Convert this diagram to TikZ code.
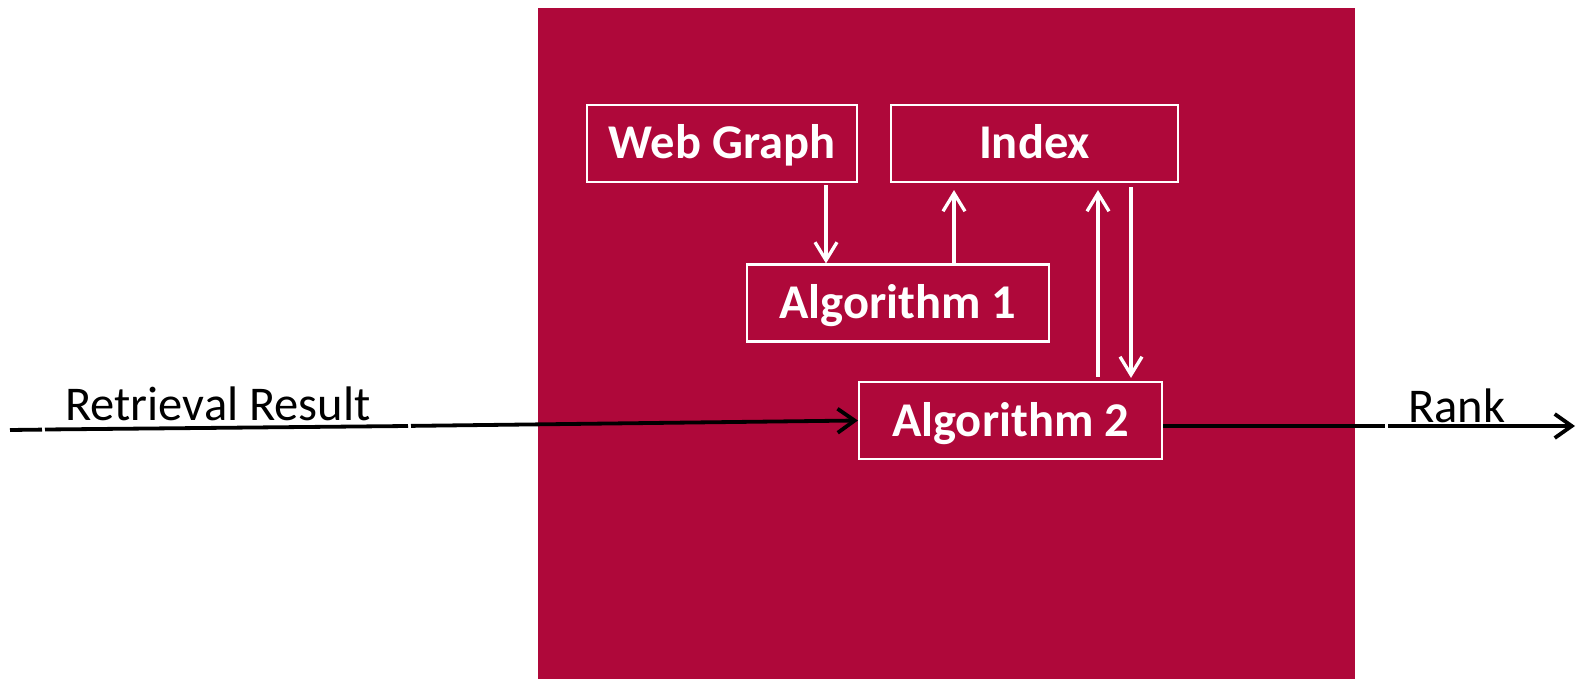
\documentclass[tikz,border=0pt]{standalone}
\usepackage{fontspec}
\setmainfont{Carlito}
\usetikzlibrary{arrows.meta}
\definecolor{crimsonbg}{RGB}{175,8,58}
\tikzset{
  box/.style={draw=white, line width=2.2pt, inner sep=0pt, text=white,
    font=\fontsize{48.5}{52}\selectfont\bfseries, text height=31pt, text depth=0pt},
  warrow/.style={draw=white, line width=3.3pt, -{Straight Barb[length=18pt,width=22pt]}},
  barrow/.style={draw=black, line width=3.8pt, -{Straight Barb[length=17pt,width=24pt]}},
  bline/.style={draw=black, line width=3.8pt},
  lbl/.style={font=\fontsize{48.5}{52}\selectfont, inner sep=0pt, anchor=base west},
}
\begin{document}
\begin{tikzpicture}[x=1pt,y=-1pt]
\useasboundingbox (0,0) rectangle (1577,679);
\fill[crimsonbg] (538,8) rectangle (1355,679);

\node[box, minimum width=270pt, minimum height=77pt] (wg) at (722,143.5) {Web Graph};
\node[box, minimum width=287pt, minimum height=77pt] (ix) at (1034.5,143.5) {Index};
\node[box, minimum width=302pt, minimum height=77pt] (a1) at (898,303) {Algorithm 1};
\node[box, minimum width=303pt, minimum height=77pt] (a2) at (1010.5,420.5) {Algorithm 2};

\coordinate (x1) at (826,0);
\coordinate (x2) at (954,0);
\coordinate (x3) at (1098,0);
\coordinate (x4) at (1131,0);

\draw[warrow, shorten <=2pt] (wg.south -| x1) -- (a1.north -| x1);
\draw[warrow, shorten >=7pt] (a1.north -| x2) -- (ix.south -| x2);
\draw[warrow, shorten <=4pt, shorten >=7pt] (a2.north -| x3) -- (ix.south -| x3);
\draw[warrow, shorten <=4pt, shorten >=3pt] (ix.south -| x4) -- (a2.north -| x4);

% Retrieval Result input line (drawn in pieces)
\coordinate (r0) at (10,430);
\coordinate (r1) at (42,429.6);
\coordinate (r2) at (45,429.5);
\coordinate (r3) at (408,426);
\coordinate (r4) at (411,425.9);
\coordinate (r5) at (857,420.5);
\draw[bline] (r0) -- (r1);
\draw[bline] (r2) -- (r3);
\draw[barrow] (r4) -- (a2.west |- r5);
\node[lbl] (rr) at (65,420) {Retrieval Result};

% Rank output line
\coordinate (k1) at (1385,426);
\coordinate (k2) at (1388,426);
\coordinate (k3) at (1575,426);
\draw[bline] (a2.east |- k1) -- (k1);
\draw[barrow] (k2) -- (k3);
\node[lbl] (rk) at (1408,422) {Rank};
\end{tikzpicture}
\end{document}
